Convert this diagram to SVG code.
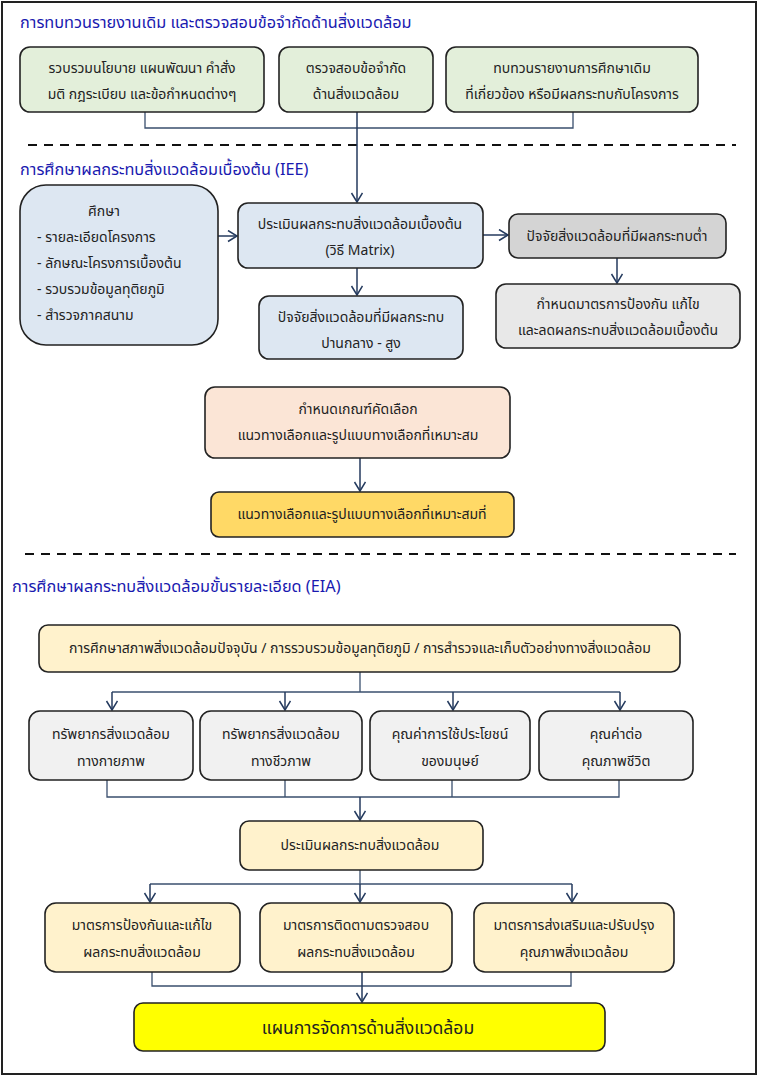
<svg xmlns="http://www.w3.org/2000/svg" width="760" height="1078" viewBox="0 0 760 1078">
<defs>
<marker id="arr" markerWidth="14" markerHeight="14" refX="10" refY="6" orient="auto" markerUnits="userSpaceOnUse">
<path d="M1,0.5 L10,6 L1,11.5" fill="none" stroke="#243a5e" stroke-width="1.5"/>
</marker>
<style>
.t{font-family:"Noto Sans Thai","Tahoma","DejaVu Sans","Noto Sans","Liberation Sans",sans-serif;font-size:14px;fill:#222;text-anchor:middle}
.tl{text-anchor:start}
.h{font-family:"Noto Sans Thai","Tahoma","DejaVu Sans","Noto Sans","Liberation Sans",sans-serif;font-size:16.3px;fill:#1a1ab0}
.b{stroke:#222;stroke-width:1.6}
.green{fill:#e3efda}
.blue{fill:#dde7f2}
.gray{fill:#d4d4d4}
.lgray{fill:#e8e8e8}
.vlgray{fill:#f1f1f1}
.peach{fill:#fbe5d6}
.gold{fill:#ffd966}
.cream{fill:#fff2cc}
.yel{fill:#ffff00}
.c{fill:none;stroke:#3a4f6e;stroke-width:1.3}
.ca{fill:none;stroke:#243a5e;stroke-width:1.5;marker-end:url(#arr)}
.dash{stroke:#111;stroke-width:2;stroke-dasharray:9,7}
</style>
</defs>
<rect x="2" y="2" width="754" height="1072" fill="#fff" stroke="#222" stroke-width="2"/>

<text class="h" x="20" y="28">การทบทวนรายงานเดิม และตรวจสอบข้อจำกัดด้านสิ่งแวดล้อม</text>
<line class="dash" x1="28" y1="145" x2="736" y2="145"/>
<text class="h" x="20" y="175">การศึกษาผลกระทบสิ่งแวดล้อมเบื้องต้น (IEE)</text>
<line class="dash" x1="25" y1="554" x2="736" y2="554"/>
<text class="h" x="12" y="592">การศึกษาผลกระทบสิ่งแวดล้อมขั้นรายละเอียด (EIA)</text>

<g id="connectors">
<polyline class="c" points="145,112 145,128 573,128 573,112"/>
<line class="ca" x1="357" y1="112" x2="357" y2="202"/>
<line class="ca" x1="212" y1="236" x2="237" y2="236"/>
<line class="ca" x1="483" y1="235" x2="508" y2="235"/>
<line class="ca" x1="617" y1="258" x2="617" y2="283"/>
<line class="ca" x1="357" y1="268" x2="357" y2="295"/>
<line class="ca" x1="360" y1="458" x2="360" y2="491"/>
<line class="c" x1="360" y1="672" x2="360" y2="692"/>
<line class="c" x1="112" y1="692" x2="620" y2="692"/>
<line class="ca" x1="112" y1="692" x2="112" y2="710"/>
<line class="ca" x1="285" y1="692" x2="285" y2="710"/>
<line class="ca" x1="453" y1="692" x2="453" y2="710"/>
<line class="ca" x1="620" y1="692" x2="620" y2="710"/>
<polyline class="c" points="107,780 107,797 619,797 619,780"/>
<line class="c" x1="285" y1="780" x2="285" y2="797"/>
<line class="c" x1="452" y1="780" x2="452" y2="797"/>
<line class="ca" x1="360" y1="797" x2="360" y2="820"/>
<line class="c" x1="360" y1="870" x2="360" y2="884"/>
<line class="c" x1="150" y1="884" x2="572" y2="884"/>
<line class="ca" x1="150" y1="884" x2="150" y2="902"/>
<line class="ca" x1="360" y1="884" x2="360" y2="902"/>
<line class="ca" x1="572" y1="884" x2="572" y2="902"/>
<polyline class="c" points="152,972 152,986 571,986 571,972"/>
<line class="ca" x1="362" y1="972" x2="362" y2="1002"/>
</g>

<g id="n1"><rect class="b green" x="20" y="47" width="244" height="65" rx="10"/>
<text class="t" x="142" y="73">รวบรวมนโยบาย แผนพัฒนา คำสั่ง</text>
<text class="t" x="142" y="99">มติ กฎระเบียบ และข้อกำหนดต่างๆ</text></g>
<g id="n2"><rect class="b green" x="279" y="47" width="154" height="65" rx="10"/>
<text class="t" x="356" y="73">ตรวจสอบข้อจำกัด</text>
<text class="t" x="356" y="99">ด้านสิ่งแวดล้อม</text></g>
<g id="n3"><rect class="b green" x="446" y="47" width="252" height="65" rx="10"/>
<text class="t" x="572" y="73">ทบทวนรายงานการศึกษาเดิม</text>
<text class="t" x="572" y="99">ที่เกี่ยวข้อง หรือมีผลกระทบกับโครงการ</text></g>

<g id="n4"><rect class="b blue" x="20" y="185" width="198" height="160" rx="26"/>
<text class="t" x="104" y="216">ศึกษา</text>
<text class="t tl" x="37" y="242">- รายละเอียดโครงการ</text>
<text class="t tl" x="37" y="268">- ลักษณะโครงการเบื้องต้น</text>
<text class="t tl" x="37" y="294">- รวบรวมข้อมูลทุติยภูมิ</text>
<text class="t tl" x="37" y="320">- สำรวจภาคสนาม</text></g>
<g id="n5"><rect class="b blue" x="238" y="203" width="245" height="65" rx="10"/>
<text class="t" x="360" y="229">ประเมินผลกระทบสิ่งแวดล้อมเบื้องต้น</text>
<text class="t" x="360" y="255">(วิธี Matrix)</text></g>
<g id="n6"><rect class="b gray" x="509" y="214" width="217" height="44" rx="9"/>
<text class="t" x="617" y="241">ปัจจัยสิ่งแวดล้อมที่มีผลกระทบต่ำ</text></g>
<g id="n7"><rect class="b lgray" x="496" y="284" width="244" height="64" rx="10"/>
<text class="t" x="618" y="309">กำหนดมาตรการป้องกัน แก้ไข</text>
<text class="t" x="618" y="335">และลดผลกระทบสิ่งแวดล้อมเบื้องต้น</text></g>
<g id="n8"><rect class="b blue" x="259" y="296" width="204" height="63" rx="10"/>
<text class="t" x="361" y="322">ปัจจัยสิ่งแวดล้อมที่มีผลกระทบ</text>
<text class="t" x="361" y="348">ปานกลาง - สูง</text></g>
<g id="n9"><rect class="b peach" x="205" y="387" width="305" height="71" rx="10"/>
<text class="t" x="358" y="414">กำหนดเกณฑ์คัดเลือก</text>
<text class="t" x="358" y="440">แนวทางเลือกและรูปแบบทางเลือกที่เหมาะสม</text></g>
<g id="n10"><rect class="b gold" x="211" y="492" width="303" height="45" rx="8"/>
<text class="t" x="362" y="519">แนวทางเลือกและรูปแบบทางเลือกที่เหมาะสมที่</text></g>

<g id="n11"><rect class="b cream" x="39" y="625" width="641" height="47" rx="9"/>
<text class="t" x="360" y="653">การศึกษาสภาพสิ่งแวดล้อมปัจจุบัน / การรวบรวมข้อมูลทุติยภูมิ / การสำรวจและเก็บตัวอย่างทางสิ่งแวดล้อม</text></g>
<g id="n12"><rect class="b vlgray" x="29" y="711" width="164" height="69" rx="11"/>
<text class="t" x="111" y="739">ทรัพยากรสิ่งแวดล้อม</text>
<text class="t" x="111" y="766">ทางกายภาพ</text></g>
<g id="n13"><rect class="b vlgray" x="200" y="711" width="162" height="69" rx="11"/>
<text class="t" x="281" y="739">ทรัพยากรสิ่งแวดล้อม</text>
<text class="t" x="281" y="766">ทางชีวภาพ</text></g>
<g id="n14"><rect class="b vlgray" x="370" y="711" width="160" height="69" rx="11"/>
<text class="t" x="450" y="739">คุณค่าการใช้ประโยชน์</text>
<text class="t" x="450" y="766">ของมนุษย์</text></g>
<g id="n15"><rect class="b vlgray" x="539" y="711" width="154" height="69" rx="11"/>
<text class="t" x="616" y="739">คุณค่าต่อ</text>
<text class="t" x="616" y="766">คุณภาพชีวิต</text></g>
<g id="n16"><rect class="b cream" x="240" y="821" width="243" height="49" rx="9"/>
<text class="t" x="360" y="850">ประเมินผลกระทบสิ่งแวดล้อม</text></g>
<g id="n17"><rect class="b cream" x="45" y="903" width="195" height="69" rx="11"/>
<text class="t" x="142" y="930">มาตรการป้องกันและแก้ไข</text>
<text class="t" x="142" y="957">ผลกระทบสิ่งแวดล้อม</text></g>
<g id="n18"><rect class="b cream" x="260" y="903" width="192" height="69" rx="11"/>
<text class="t" x="356" y="930">มาตรการติดตามตรวจสอบ</text>
<text class="t" x="356" y="957">ผลกระทบสิ่งแวดล้อม</text></g>
<g id="n19"><rect class="b cream" x="474" y="903" width="200" height="69" rx="11"/>
<text class="t" x="574" y="930">มาตรการส่งเสริมและปรับปรุง</text>
<text class="t" x="574" y="957">คุณภาพสิ่งแวดล้อม</text></g>
<g id="n20"><rect class="b yel" x="134" y="1003" width="471" height="48" rx="9"/>
<text class="t" x="368" y="1034" style="font-size:17.5px">แผนการจัดการด้านสิ่งแวดล้อม</text></g>
</svg>
